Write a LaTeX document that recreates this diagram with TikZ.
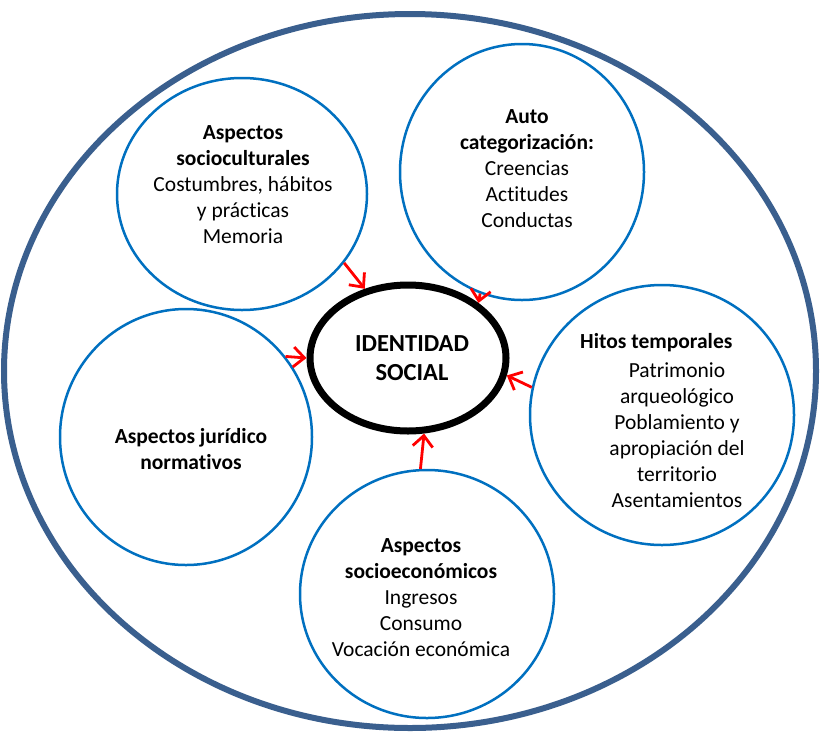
\documentclass[tikz,border=0pt]{standalone}
\usepackage{fontspec}
\setmainfont{Carlito}[RawFeature={-liga;-clig;-calt;-dlig;-rlig}]
\usetikzlibrary{shapes.geometric,arrows.meta}
\definecolor{circblue}{RGB}{0,112,192}
\definecolor{outerblue}{RGB}{58,95,142}
\tikzset{
  bubble/.style={draw=circblue, line width=2.5pt, ellipse, inner sep=0pt},
  txt/.style={align=center, font=\fontsize{21.5}{26}\selectfont, inner sep=0pt},
  arr/.style={draw=red, line width=2.8pt, -{Straight Barb[length=11pt,width=20pt]}},
}
\begin{document}
\begin{tikzpicture}[x=1pt,y=-1pt]
\useasboundingbox (0,0) rectangle (821,734);
\fill[white] (0,0) rectangle (821,734);
% outer ellipse
\draw[outerblue, line width=6pt] (410,371) ellipse [x radius=406, y radius=357];
% bubbles
\node[bubble, minimum width=250pt, minimum height=232pt] (sc) at (242,194) {};
\node[bubble, minimum width=244pt, minimum height=256pt] (ac) at (522,172) {};
\node[bubble, minimum width=264pt, minimum height=260pt] (ht) at (662,415) {};
\node[bubble, minimum width=252pt, minimum height=256pt] (jn) at (186,437) {};
\node[bubble, minimum width=254pt, minimum height=248pt] (se) at (427,594) {};
% central
\node[draw=black, line width=7pt, ellipse, minimum width=196pt, minimum height=146pt, inner sep=0pt] (id) at (408,358) {};
% texts
\node[txt] (tsc) at (243,185) {\textbf{Aspectos}\\\textbf{socioculturales}\\Costumbres, hábitos\\y prácticas\\Memoria};
\node[txt] (tac) at (527,169) {\textbf{Auto}\\\textbf{categorización:}\\Creencias\\Actitudes\\Conductas};
\node[txt, font=\fontsize{24.5}{29.5}\selectfont\bfseries] (tid) at (412,358) {IDENTIDAD\\SOCIAL};
\node[txt, anchor=west] (tht1) at (580,343) {\textbf{Hitos temporales}};
\node[txt] (tht2) at (677,435) {Patrimonio\\arqueológico\\Poblamiento y\\apropiación del\\territorio\\Asentamientos};
\node[txt] (tjn) at (191,449) {\textbf{Aspectos jurídico}\\\textbf{normativos}};
\node[txt] (tse) at (421,598) {\textbf{Aspectos}\\\textbf{socioeconómicos}\\Ingresos\\Consumo\\Vocación económica};
% arrows
\draw[arr] (sc.-34) -- (id.122);
\draw[arr] (ac.-109) -- (id.38);
\draw[arr] (jn.39) -- (id.180);
\draw[arr] (ht.168) -- (id.-10);
\draw[arr] (se.93) -- (id.-78);
\end{tikzpicture}
\end{document}
